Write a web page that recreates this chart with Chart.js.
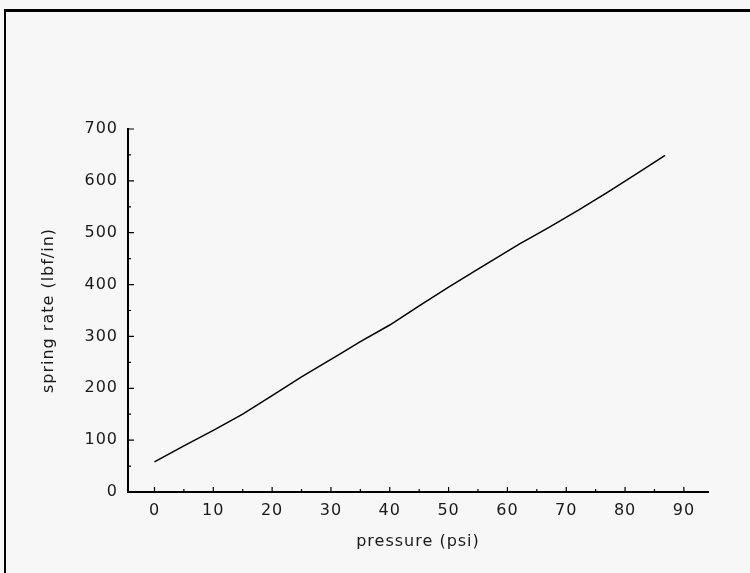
<!DOCTYPE html>
<html lang="en">
<head>
    <meta charset="UTF-8" />
    <title>Spring rate vs pressure</title>
    <script src="https://cdn.jsdelivr.net/npm/chart.js"></script>
    <style>
        html, body { margin: 0; padding: 0; background: #f7f7f7; overflow: hidden; }
        .moldura {
            position: absolute; left: 4px; top: 9px;
            width: 900px; height: 700px;
            border-top: 3px solid #000; border-left: 2px solid #000;
        }
        .grafico { position: absolute; left: 0; top: 0; width: 750px; height: 573px; }
    </style>
</head>
<body>
    <div class="moldura"></div>
    <div class="grafico">
        <canvas id="molaPressao" width="750" height="573"></canvas>
    </div>

<script>
    // pressao (psi) x taxa da mola (lbf/in)
    const pressao = [0, 5, 10, 15, 20, 25, 31.5, 35, 40, 45, 50, 55, 62, 67, 72, 77, 82, 86.8];
    const taxaMola = [58, 89, 119, 150, 186, 222, 266, 290, 322, 359, 395, 430, 478, 510, 543, 578, 614, 649];

    const ticksX = [0, 10, 20, 30, 40, 50, 60, 70, 80, 90];
    const ticksY = [0, 100, 200, 300, 400, 500, 600, 700];
    const menoresX = [5, 15, 25, 35, 45, 55, 65, 75, 85];
    const menoresY = [50, 150, 250, 350, 450, 550, 650];

    const fonte = { family: 'DejaVu Sans', size: 16 };

    // texto um pouco mais espacado
    const espacamento = {
        id: 'espacamento',
        beforeUpdate(chart) { chart.ctx.letterSpacing = '1px'; },
        beforeDraw(chart) { chart.ctx.letterSpacing = '1px'; }
    };

    // marcas dos eixos viradas para dentro
    const marcasInternas = {
        id: 'marcasInternas',
        afterDraw(chart) {
            const ctx = chart.ctx;
            const sx = chart.scales.x, sy = chart.scales.y;
            const base = sy.getPixelForValue(0);
            const esq = sx.left;
            ctx.save();
            ctx.strokeStyle = '#000';
            ctx.lineWidth = 1.2;
            ctx.beginPath();
            ticksX.forEach(v => { const p = sx.getPixelForValue(v); ctx.moveTo(p, base); ctx.lineTo(p, base - 5); });
            menoresX.forEach(v => { const p = sx.getPixelForValue(v); ctx.moveTo(p, base); ctx.lineTo(p, base - 3); });
            ticksY.forEach(v => { const p = sy.getPixelForValue(v); ctx.moveTo(esq, p); ctx.lineTo(esq + 6, p); });
            menoresY.forEach(v => { const p = sy.getPixelForValue(v); ctx.moveTo(esq, p); ctx.lineTo(esq + 3, p); });
            ctx.stroke();
            ctx.restore();
        }
    };

    const tabela = document.getElementById('molaPressao');
    new Chart(tabela, {
        type: 'line',
        data: {
            datasets: [
                {
                    data: pressao.map((p, i) => ({ x: p, y: taxaMola[i] })),
                    borderColor: '#000',
                    borderWidth: 1.5,
                    pointRadius: 0,
                    tension: 0,
                    fill: false
                }
            ]
        },
        options: {
            responsive: false,
            animation: false,
            layout: { padding: { left: 10, right: 42, top: 129, bottom: 20 } },
            plugins: { legend: { display: false }, tooltip: { enabled: false } },
            scales: {
                x: {
                    type: 'linear',
                    min: -4.5,
                    max: 94.1,
                    afterBuildTicks: s => { s.ticks = ticksX.map(v => ({ value: v })); },
                    afterFit: s => { s.height = 61; },
                    grid: { display: false, drawTicks: false },
                    border: { display: true, color: '#000', width: 2 },
                    ticks: { color: '#1a1a1a', font: fonte, padding: 9, maxRotation: 0 },
                    title: { display: true, text: 'pressure (psi)', color: '#1a1a1a', font: fonte, padding: { top: 0, bottom: 2 } }
                },
                y: {
                    type: 'linear',
                    min: 0,
                    max: 700,
                    afterBuildTicks: s => { s.ticks = ticksY.map(v => ({ value: v })); },
                    afterFit: s => { s.width = 118; },
                    grid: { display: false, drawTicks: false },
                    border: { display: true, color: '#000', width: 2 },
                    ticks: { color: '#1a1a1a', font: fonte, padding: 10 },
                    title: { display: true, text: 'spring rate (lbf/in)', color: '#1a1a1a', font: fonte, padding: { top: 29, bottom: 0 } }
                }
            }
        },
        plugins: [espacamento, marcasInternas]
    });
</script>
</body>
</html>
